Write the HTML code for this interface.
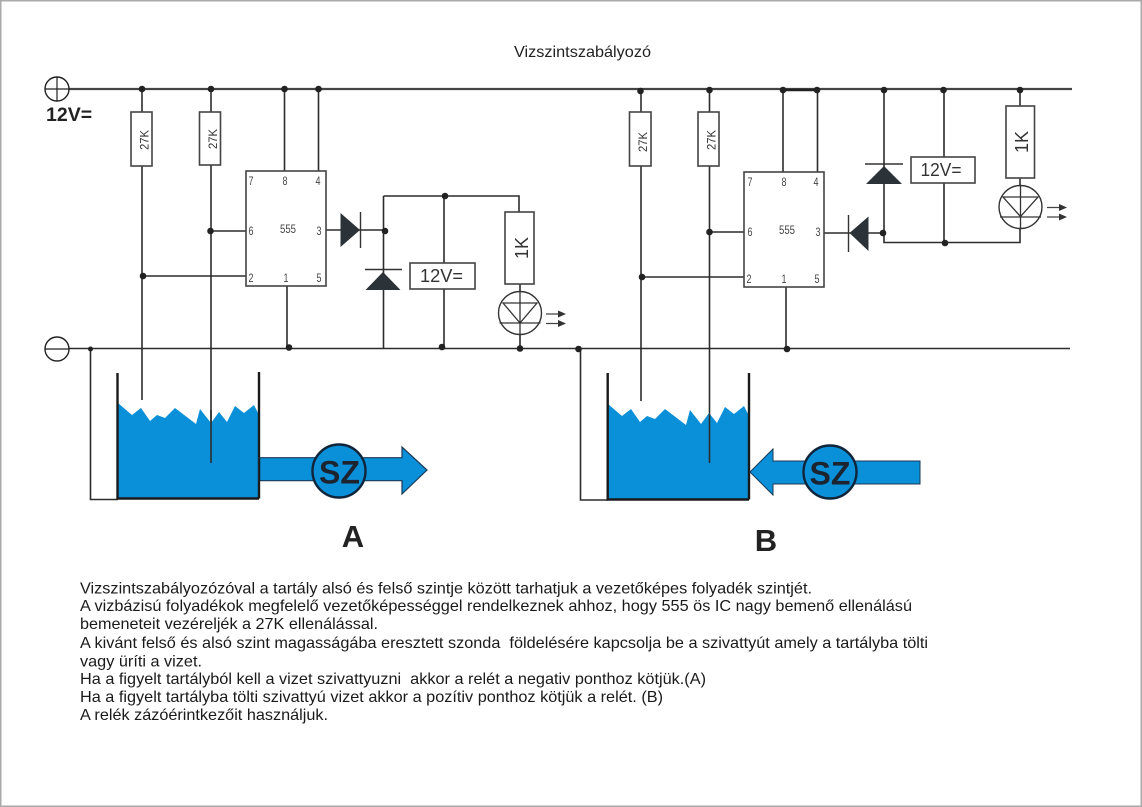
<!DOCTYPE html>
<html><head><meta charset="utf-8">
<style>
html,body{margin:0;padding:0;background:#fff}
svg{display:block}
text{font-family:"Liberation Sans",Arial,sans-serif;fill:#222}
.w{stroke:#2c2c2c;stroke-width:1.6;fill:none}
.t{stroke:#444;stroke-width:2.2;fill:none}
.b{stroke:#444;stroke-width:1.6;fill:#fff}
.d{fill:#222}
.dio{fill:#2b3338}
.p{font-size:12px;fill:#444;text-anchor:middle}
.body{font-size:16px;fill:#1a1a1a}
.wat{fill:#0a8fd9}
</style></head><body>
<svg width="1142" height="807" viewBox="0 0 1142 807" xmlns="http://www.w3.org/2000/svg">
<rect x="0.5" y="0.5" width="1141" height="806" fill="#fff" stroke="#aaa" stroke-width="2"/>

<text x="514" y="57" font-size="16" textLength="137" lengthAdjust="spacingAndGlyphs" style="fill:#222">Vizszintszabályozó</text>

<!-- rails -->
<line class="t" x1="69" y1="89" x2="1072" y2="89"/>
<line class="w" x1="69" y1="348.5" x2="1070" y2="348.5"/>
<circle cx="57" cy="89" r="12" fill="#fff" stroke="#222" stroke-width="1.4"/>
<path d="M45 89H69M57 77V101" stroke="#222" stroke-width="1.2"/>
<circle cx="57" cy="349" r="12" fill="#fff" stroke="#222" stroke-width="1.4"/>
<path d="M45 349H69" stroke="#222" stroke-width="1.2"/>
<text x="46" y="121" font-size="19.5" font-weight="bold" style="fill:#222">12V=</text>

<!-- Circuit A wires -->
<path class="w" d="M142 89V400M211 89V463M284.5 89V171M318.5 89V171M211 231H246M143 276H246M287 286V348M326 230H385M383.5 196V348M383.5 196H519V212M444 196V263M444 289V348M520 284V348"/>
<path class="w" d="M90.5 349V499.5H118"/>
<rect class="b" x="131" y="112" width="21" height="54"/>
<rect class="b" x="199.5" y="112" width="21" height="53"/>
<text transform="translate(148.500,140) rotate(-90)" font-size="12" textLength="20" lengthAdjust="spacingAndGlyphs" text-anchor="middle" style="fill:#333">27K</text>
<text transform="translate(217,139) rotate(-90)" font-size="12" textLength="20" lengthAdjust="spacingAndGlyphs" text-anchor="middle" style="fill:#333">27K</text>
<rect class="b" x="246" y="171" width="80" height="115"/>
<text class="p" x="251" y="185" textLength="5" lengthAdjust="spacingAndGlyphs">7</text><text class="p" x="285" y="185" textLength="5" lengthAdjust="spacingAndGlyphs">8</text><text class="p" x="318" y="185" textLength="5" lengthAdjust="spacingAndGlyphs">4</text>
<text class="p" x="251" y="235" textLength="5" lengthAdjust="spacingAndGlyphs">6</text><text class="p" x="288" y="233" textLength="16" lengthAdjust="spacingAndGlyphs">555</text><text class="p" x="319" y="235" textLength="5" lengthAdjust="spacingAndGlyphs">3</text>
<text class="p" x="251" y="282" textLength="5" lengthAdjust="spacingAndGlyphs">2</text><text class="p" x="286" y="282" textLength="5" lengthAdjust="spacingAndGlyphs">1</text><text class="p" x="319" y="282" textLength="5" lengthAdjust="spacingAndGlyphs">5</text>
<polygon class="dio" points="340.5,213 340.5,247 360,230"/>
<path d="M360.5 212V248" stroke="#333" stroke-width="1.4"/>
<polygon class="dio" points="383,272 365.500,290 400.500,290"/>
<path d="M365 269.500H402" stroke="#333" stroke-width="1.4"/>
<rect class="b" x="410" y="263" width="65" height="26"/>
<text x="441.500" y="282" font-size="18" textLength="43" lengthAdjust="spacingAndGlyphs" text-anchor="middle" style="fill:#333">12V=</text>
<rect class="b" x="505" y="212" width="29" height="72"/>
<text transform="translate(528,248) rotate(-90)" font-size="18" text-anchor="middle" style="fill:#333">1K</text>
<circle cx="520" cy="313" r="21.500" fill="#fff" stroke="#333" stroke-width="1.400"/>
<path d="M503 303H537L520 323ZM499.500 323H540.500M520 292V334" fill="none" stroke="#333" stroke-width="1.300"/>
<path d="M546 314H560M546 323.500H560" stroke="#444" stroke-width="1.300"/>
<polygon points="558,310.500 566,314 558,317.500" fill="#333"/><polygon points="558,320 566,323.500 558,327" fill="#333"/>

<!-- Circuit B wires -->
<path class="w" d="M641 89V401M709.500 89V463M783 89V172M817.500 89V172M709.500 232H744M642 277H744M786 287V349M824 233H884M884 89V242.500H1020V228M944 89V157M944 183V242.500M1020 89V106M1020 178V186"/>
<path class="w" d="M580.500 349V500H608"/>
<path d="M783 90H817" stroke="#222" stroke-width="2.500"/>
<rect class="b" x="629.500" y="112" width="21.500" height="54"/>
<rect class="b" x="698" y="112" width="21" height="54"/>
<text transform="translate(647,142) rotate(-90)" font-size="12" textLength="20" lengthAdjust="spacingAndGlyphs" text-anchor="middle" style="fill:#333">27K</text>
<text transform="translate(715.500,140) rotate(-90)" font-size="12" textLength="20" lengthAdjust="spacingAndGlyphs" text-anchor="middle" style="fill:#333">27K</text>
<rect class="b" x="744" y="172" width="80" height="115"/>
<text class="p" x="750" y="186" textLength="5" lengthAdjust="spacingAndGlyphs">7</text><text class="p" x="784" y="186" textLength="5" lengthAdjust="spacingAndGlyphs">8</text><text class="p" x="816" y="186" textLength="5" lengthAdjust="spacingAndGlyphs">4</text>
<text class="p" x="750" y="236" textLength="5" lengthAdjust="spacingAndGlyphs">6</text><text class="p" x="787" y="234" textLength="16" lengthAdjust="spacingAndGlyphs">555</text><text class="p" x="818" y="236" textLength="5" lengthAdjust="spacingAndGlyphs">3</text>
<text class="p" x="749" y="283" textLength="5" lengthAdjust="spacingAndGlyphs">2</text><text class="p" x="784" y="283" textLength="5" lengthAdjust="spacingAndGlyphs">1</text><text class="p" x="817" y="283" textLength="5" lengthAdjust="spacingAndGlyphs">5</text>
<polygon class="dio" points="868.500,216.500 868.500,251 849.500,233"/>
<path d="M848.500 215V252" stroke="#333" stroke-width="1.400"/>
<polygon class="dio" points="884,166 866,184 902,184"/>
<path d="M865 164H903" stroke="#333" stroke-width="1.400"/>
<rect class="b" x="911" y="157" width="64" height="26"/>
<text x="941" y="176" font-size="18" textLength="41" lengthAdjust="spacingAndGlyphs" text-anchor="middle" style="fill:#333">12V=</text>
<rect class="b" x="1006" y="106" width="28.500" height="72"/>
<text transform="translate(1028,142) rotate(-90)" font-size="18" text-anchor="middle" style="fill:#333">1K</text>
<circle cx="1020.500" cy="207" r="21.500" fill="#fff" stroke="#333" stroke-width="1.400"/>
<path d="M1003 197H1038L1020.500 216.500ZM1000 217H1041M1020.500 186V228" fill="none" stroke="#333" stroke-width="1.300"/>
<path d="M1047 207.500H1061M1047 217H1061" stroke="#444" stroke-width="1.300"/>
<polygon points="1059,204 1067,207.500 1059,211" fill="#333"/><polygon points="1059,213.500 1067,217 1059,220.500" fill="#333"/>

<!-- Tank A -->
<polygon class="wat" points="118,403 132,415 141,408 150,421 157,415 165,418 175,408 196,424 200,409 211,423 219,412 227,422 235,406 244,413 254,405 259,415 259,498 118,498"/>
<path d="M211 410V463" stroke="#2c2c2c" stroke-width="1.600"/>
<path d="M117.500 373V498.500H259M259 372V498.500" fill="none" stroke="#1a1a1a" stroke-width="2.400"/>
<polygon class="wat" points="259,457.700 402,457.700 402,447 427,470 402,494 402,480.700 259,480.700" stroke="#1c3a55" stroke-width="1.200"/>
<path d="M259.500 458V481" stroke="#1a1a1a" stroke-width="1.500"/>
<circle class="wat" cx="339" cy="471" r="26.500" stroke="#10243a" stroke-width="2.400"/>
<text x="339.500" y="483.500" font-size="32" font-weight="bold" text-anchor="middle" style="fill:#1c2430">SZ</text>
<text x="353" y="547" font-size="31" font-weight="bold" text-anchor="middle" style="fill:#222">A</text>

<!-- Tank B -->
<polygon class="wat" points="608,404 622,416 631,409 640,422 647,416 655,419 665,409 686,425 690,410 701,424 709,413 717,423 725,407 734,414 744,406 749,416 749,499 608,499"/>
<path d="M709.500 414V463" stroke="#2c2c2c" stroke-width="1.600"/>
<path d="M607.700 373V499.500H749M749 373V499.500" fill="none" stroke="#1a1a1a" stroke-width="2.400"/>
<polygon class="wat" points="920,461 773,461 773,449 750,472 773,495 773,484 920,484" stroke="#1c3a55" stroke-width="1"/>
<circle class="wat" cx="830" cy="472" r="26.500" stroke="#10243a" stroke-width="2.400"/>
<text x="830" y="484.500" font-size="32" font-weight="bold" text-anchor="middle" style="fill:#1c2430">SZ</text>
<text x="766" y="551" font-size="31" font-weight="bold" text-anchor="middle" style="fill:#222">B</text>

<!-- nodes -->
<g class="d">
<circle cx="142" cy="89" r="3.300"/><circle cx="211" cy="89" r="3.300"/><circle cx="284.500" cy="89" r="3.300"/><circle cx="318.500" cy="89" r="3.300"/>
<circle cx="210.500" cy="231" r="3.300"/><circle cx="143" cy="276" r="3.300"/><circle cx="385" cy="231" r="3.300"/><circle cx="445" cy="196" r="3.300"/>
<circle cx="442" cy="347" r="3.300"/><circle cx="520" cy="348.500" r="3.300"/><circle cx="578.500" cy="349" r="3.300"/><circle cx="289" cy="347.500" r="3.300"/><circle cx="90.500" cy="349" r="2.500"/>
<circle cx="640.500" cy="91" r="3.300"/><circle cx="709.500" cy="90" r="3.300"/><circle cx="783" cy="90" r="3.300"/><circle cx="817" cy="90" r="3.300"/>
<circle cx="884" cy="90" r="3.300"/><circle cx="943.500" cy="90" r="3.300"/><circle cx="1020" cy="90" r="3.300"/>
<circle cx="709.500" cy="232" r="3.300"/><circle cx="642" cy="277" r="3.300"/><circle cx="883" cy="233" r="3.300"/><circle cx="945" cy="243" r="3.300"/><circle cx="787" cy="349" r="3.300"/>
</g>

<!-- body text -->
<g xml:space="preserve">
<text class="body" x="80" y="593.500" textLength="732" lengthAdjust="spacingAndGlyphs" xml:space="preserve">Vizszintszabályozózóval a tartály alsó és felső szintje között tarhatjuk a vezetőképes folyadék szintjét.</text>
<text class="body" x="80" y="611" textLength="832" lengthAdjust="spacingAndGlyphs" xml:space="preserve">A vizbázisú folyadékok megfelelő vezetőképességgel rendelkeznek ahhoz, hogy 555 ös IC nagy bemenő ellenálású</text>
<text class="body" x="80" y="629" textLength="298" lengthAdjust="spacingAndGlyphs" xml:space="preserve">bemeneteit vezéreljék a 27K ellenálással.</text>
<text class="body" x="80" y="648" textLength="848" lengthAdjust="spacingAndGlyphs" xml:space="preserve">A kivánt felső és alsó szint magasságába eresztett szonda  földelésére kapcsolja be a szivattyút amely a tartályba tölti</text>
<text class="body" x="80" y="666.500" textLength="122" lengthAdjust="spacingAndGlyphs" xml:space="preserve">vagy üríti a vizet.</text>
<text class="body" x="80" y="684" textLength="626" lengthAdjust="spacingAndGlyphs" xml:space="preserve">Ha a figyelt tartályból kell a vizet szivattyuzni  akkor a relét a negativ ponthoz kötjük.(A)</text>
<text class="body" x="80" y="702" textLength="583" lengthAdjust="spacingAndGlyphs" xml:space="preserve">Ha a figyelt tartályba tölti szivattyú vizet akkor a pozítiv ponthoz kötjük a relét. (B)</text>
<text class="body" x="80" y="720" textLength="248" lengthAdjust="spacingAndGlyphs" xml:space="preserve">A relék zázóérintkezőit használjuk.</text>
</g>
</svg>
</body></html>
